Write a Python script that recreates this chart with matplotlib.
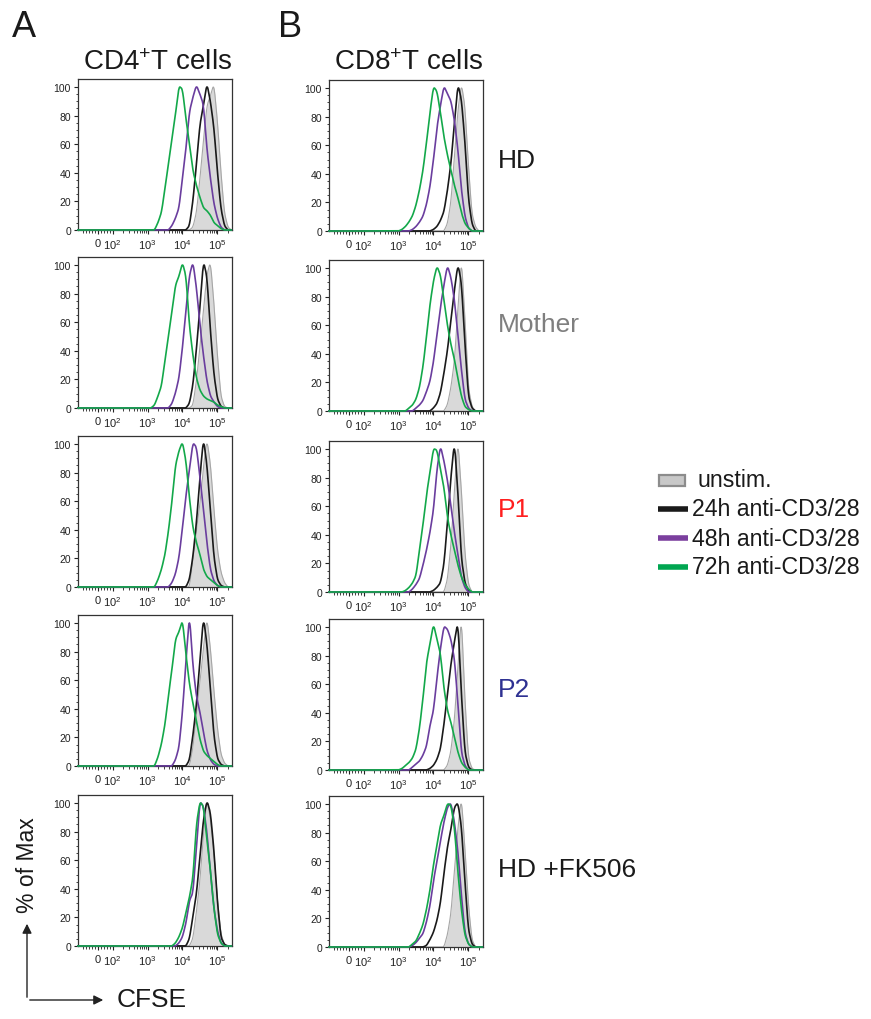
import matplotlib
matplotlib.use('Agg')
import matplotlib.pyplot as plt
from matplotlib.patches import Rectangle, FancyArrowPatch
from matplotlib.lines import Line2D
import numpy as np

plt.rcParams['font.family'] = ['Liberation Sans', 'DejaVu Sans']
plt.rcParams['mathtext.fontset'] = 'custom'
plt.rcParams['mathtext.rm'] = 'Liberation Sans'
plt.rcParams['mathtext.it'] = 'Liberation Sans:italic'

# CFSE intensity grid (log10) and % of max per curve: [unstim, 24h, 48h, 72h]
log_cfse = [3.0, 3.1, 3.2, 3.3, 3.4, 3.5, 3.6, 3.7, 3.8, 3.9, 4.0, 4.1, 4.2,
            4.3, 4.4, 4.5, 4.6, 4.7, 4.8, 4.9, 5.0, 5.1, 5.2, 5.3, 5.4]

cd4_hd = [
    [0, 0, 0, 0, 0, 0, 0, 0, 0, 0, 0, 0, 0, 2, 12, 35, 62, 85, 92, 100, 75, 40, 12, 2, 0],
    [0, 0, 0, 0, 0, 0, 0, 0, 0, 0, 0, 0, 3, 20, 45, 72, 85, 100, 88, 70, 40, 15, 3, 0, 0],
    [0, 0, 0, 0, 0, 0, 0, 3, 8, 15, 35, 55, 80, 90, 98, 92, 85, 55, 35, 18, 8, 2, 0, 0, 0],
    [0, 0, 0, 5, 12, 28, 45, 62, 78, 97, 95, 75, 58, 40, 30, 22, 15, 13, 10, 5, 3, 1, 0, 0, 0],
]
cd4_mother = [
    [0, 0, 0, 0, 0, 0, 0, 0, 0, 0, 0, 0, 0, 2, 18, 40, 65, 88, 97, 70, 35, 8, 1, 0, 0],
    [0, 0, 0, 0, 0, 0, 0, 0, 0, 0, 0, 0, 3, 15, 38, 65, 95, 85, 50, 22, 6, 1, 0, 0, 0],
    [0, 0, 0, 0, 0, 0, 0, 3, 10, 20, 40, 65, 88, 97, 80, 55, 35, 18, 8, 4, 1, 0, 0, 0, 0],
    [0, 0, 2, 8, 15, 32, 48, 65, 82, 88, 97, 88, 55, 35, 20, 12, 8, 6, 5, 4, 2, 1, 0, 0, 0],
]
cd4_p1 = [
    [0, 0, 0, 0, 0, 0, 0, 0, 0, 0, 0, 0, 0, 18, 38, 55, 80, 98, 82, 52, 25, 10, 3, 0, 0],
    [0, 0, 0, 0, 0, 0, 0, 0, 0, 0, 0, 0, 5, 20, 42, 72, 97, 80, 50, 20, 5, 1, 0, 0, 0],
    [0, 0, 0, 0, 0, 0, 0, 3, 9, 20, 40, 62, 80, 98, 95, 75, 52, 30, 12, 4, 1, 0, 0, 0, 0],
    [0, 0, 0, 5, 12, 22, 38, 58, 82, 92, 98, 85, 60, 40, 30, 22, 12, 7, 5, 3, 1, 0, 0, 0, 0],
]
cd4_p2 = [
    [0, 0, 0, 0, 0, 0, 0, 0, 0, 0, 0, 0, 0, 12, 35, 55, 78, 98, 78, 50, 25, 8, 2, 0, 0],
    [0, 0, 0, 0, 0, 0, 0, 0, 0, 0, 0, 0, 4, 20, 40, 70, 97, 80, 50, 20, 5, 1, 0, 0, 0],
    [0, 0, 0, 0, 0, 0, 0, 0, 4, 12, 35, 68, 98, 65, 45, 35, 22, 10, 4, 1, 0, 0, 0, 0, 0],
    [0, 0, 0, 6, 15, 28, 48, 65, 85, 90, 98, 75, 55, 42, 30, 18, 10, 7, 5, 3, 1, 0, 0, 0, 0],
]
cd4_fk = [
    [0, 0, 0, 0, 0, 0, 0, 0, 0, 0, 0, 0, 0, 5, 22, 42, 72, 95, 82, 60, 30, 8, 1, 0, 0],
    [0, 0, 0, 0, 0, 0, 0, 0, 0, 0, 0, 0, 5, 20, 35, 60, 85, 98, 90, 65, 30, 6, 1, 0, 0],
    [0, 0, 0, 0, 0, 0, 0, 0, 0, 2, 6, 15, 30, 35, 65, 95, 92, 75, 48, 25, 10, 2, 0, 0, 0],
    [0, 0, 0, 0, 0, 0, 0, 0, 2, 6, 12, 22, 32, 45, 80, 95, 92, 70, 50, 25, 8, 2, 0, 0, 0],
]
cd8_hd = [
    [0, 0, 0, 0, 0, 0, 0, 0, 0, 0, 0, 0, 0, 0, 5, 20, 50, 82, 100, 85, 45, 12, 3, 0, 0],
    [0, 0, 0, 0, 0, 0, 0, 0, 0, 0, 1, 3, 7, 13, 27, 45, 72, 98, 88, 60, 22, 5, 0, 0, 0],
    [0, 0, 0, 0, 1, 3, 6, 10, 18, 30, 48, 70, 85, 98, 93, 88, 75, 55, 28, 10, 2, 0, 0, 0, 0],
    [0, 1, 3, 6, 10, 17, 27, 40, 58, 78, 95, 92, 78, 62, 50, 40, 30, 22, 12, 5, 2, 0, 0, 0, 0],
]
cd8_mother = [
    [0, 0, 0, 0, 0, 0, 0, 0, 0, 0, 0, 0, 0, 0, 4, 15, 32, 65, 97, 60, 15, 3, 0, 0, 0],
    [0, 0, 0, 0, 0, 0, 0, 0, 0, 0, 2, 5, 12, 25, 40, 60, 80, 97, 85, 45, 10, 2, 0, 0, 0],
    [0, 0, 0, 0, 0, 2, 4, 7, 13, 20, 33, 52, 70, 85, 98, 90, 75, 50, 28, 8, 2, 0, 0, 0, 0],
    [0, 0, 0, 2, 4, 8, 16, 30, 50, 72, 88, 98, 92, 75, 58, 45, 35, 22, 10, 3, 1, 0, 0, 0, 0],
]
cd8_p1 = [
    [0, 0, 0, 0, 0, 0, 0, 0, 0, 0, 0, 0, 0, 0, 8, 30, 65, 97, 65, 25, 5, 0, 0, 0, 0],
    [0, 0, 0, 0, 0, 0, 0, 0, 0, 0, 1, 3, 6, 18, 45, 75, 98, 65, 22, 6, 1, 0, 0, 0, 0],
    [0, 0, 0, 0, 2, 5, 9, 18, 28, 40, 55, 82, 98, 88, 75, 58, 40, 25, 10, 3, 0, 0, 0, 0, 0],
    [0, 0, 1, 3, 6, 11, 28, 45, 65, 80, 96, 95, 82, 70, 50, 38, 28, 18, 10, 5, 2, 0, 0, 0, 0],
]
cd8_p2 = [
    [0, 0, 0, 0, 0, 0, 0, 0, 0, 0, 0, 0, 0, 0, 3, 12, 32, 65, 98, 45, 8, 1, 0, 0, 0],
    [0, 0, 0, 0, 0, 0, 0, 0, 0, 1, 3, 7, 14, 30, 50, 70, 85, 98, 50, 12, 2, 0, 0, 0, 0],
    [0, 0, 0, 0, 2, 4, 6, 10, 16, 30, 40, 62, 82, 97, 95, 88, 75, 45, 12, 3, 0, 0, 0, 0, 0],
    [0, 1, 3, 5, 8, 14, 28, 48, 72, 85, 98, 88, 78, 55, 40, 32, 22, 12, 5, 2, 0, 0, 0, 0, 0],
]
cd8_fk = [
    [0, 0, 0, 0, 0, 0, 0, 0, 0, 0, 0, 0, 0, 0, 8, 22, 50, 78, 98, 65, 28, 5, 0, 0, 0],
    [0, 0, 0, 0, 0, 0, 0, 0, 1, 5, 10, 18, 30, 50, 68, 80, 95, 98, 82, 45, 12, 2, 0, 0, 0],
    [0, 0, 0, 0, 1, 3, 6, 9, 17, 28, 45, 58, 72, 85, 95, 98, 85, 65, 35, 10, 2, 0, 0, 0, 0],
    [0, 0, 0, 0, 2, 4, 9, 15, 25, 38, 55, 68, 82, 88, 96, 95, 80, 50, 25, 8, 2, 0, 0, 0, 0],
]

row_labels = ['HD', 'Mother', 'P1', 'P2', 'HD +FK506']
row_colors = ['#1a1a1a', '#7f7f7f', '#ff1f1f', '#2e3192', '#1a1a1a']
col_titles = ['CD4$^{+}$T cells', 'CD8$^{+}$T cells']
series_names = ['unstim.', '24h anti-CD3/28', '48h anti-CD3/28', '72h anti-CD3/28']
line_colors = ['#1a1a1a', '#6a3d9e', '#13a84a']

panels = [[cd4_hd, cd4_mother, cd4_p1, cd4_p2, cd4_fk],
          [cd8_hd, cd8_mother, cd8_p1, cd8_p2, cd8_fk]]

W, H = 871, 1020
fig = plt.figure(figsize=(W / 100, H / 100), dpi=100)
fig.patch.set_facecolor('white')


def fx(px):
    return px / W


def fy(py):
    return 1 - py / H


lefts = [78, 329]
tops = [[80, 258, 437, 616, 796], [81, 261, 442, 620, 797]]
pw, ph = 154, 151

fine = np.arange(3.0, 5.4001, 0.01)
kern = np.ones(7) / 7.0


def curve(vals):
    y = np.interp(fine, log_cfse, vals)
    y = np.convolve(y, kern, mode='same')
    y = y / y.max() * 100
    x = np.concatenate([[-140, 0, 100], 10 ** fine])
    y = np.concatenate([[0, 0, 0], y])
    return x, y


minor_x = [v for v in range(-100, 100, 20) if v != 0]
for d in [2, 3, 4]:
    minor_x += [k * 10 ** d for k in range(2, 10)]
minor_x += [2e5]

for c in range(2):
    for r in range(5):
        t = tops[c][r]
        ax = fig.add_axes([fx(lefts[c]), fy(t + ph), pw / W, ph / H])
        data = panels[c][r]
        x, y = curve(data[0])
        ax.fill_between(x, y, 0, color='#d9d9d9', lw=0, zorder=1)
        ax.plot(x, y, color='#a6a6a6', lw=0.8, zorder=2)
        for vals, col in zip(data[1:], line_colors):
            x, y = curve(vals)
            ax.plot(x, y, color=col, lw=1.2, zorder=3, clip_on=False)
        ax.set_xscale('symlog', linthresh=100, linscale=0.38)
        ax.set_xlim(-140, 262144)
        ax.set_ylim(0, 105.6)
        ax.set_xticks([0, 1e2, 1e3, 1e4, 1e5])
        ax.set_xticklabels(['0', '10$^{2}$', '10$^{3}$', '10$^{4}$', '10$^{5}$'])
        ax.set_xticks(minor_x, minor=True)
        ax.set_yticks(range(0, 101, 20))
        ax.set_yticks(range(0, 101, 5), minor=True)
        ax.tick_params(which='major', direction='out', length=3, width=0.8,
                       labelsize=7.5, pad=2, colors='#222222')
        ax.tick_params(which='minor', direction='out', length=1.8, width=0.6, colors='#222222')
        ax.tick_params(axis='x', which='major', pad=2.5, labelsize=8)
        for s in ax.spines.values():
            s.set_linewidth(0.9)
            s.set_color('#333333')

# column headers and panel letters
for c in range(2):
    fig.text(fx(lefts[c] + pw / 2 + 3), fy(70), col_titles[c], ha='center', va='baseline',
             fontsize=20, color='#1a1a1a')
fig.text(fx(12), fy(37), 'A', fontsize=26, color='#1a1a1a', va='baseline')
fig.text(fx(278), fy(37), 'B', fontsize=26, color='#1a1a1a', va='baseline')

# row labels
label_y = [161, 325, 510, 690, 870]
for lab, col, yy in zip(row_labels, row_colors, label_y):
    fig.text(fx(498), fy(yy), lab, fontsize=19, color=col, va='center', ha='left')

# legend
fig.add_artist(Rectangle((fx(659), fy(487)), 26 / W, 11 / H, transform=fig.transFigure,
                         facecolor='#c8c8c8', edgecolor='#8c8c8c', lw=1.6))
fig.text(fx(697), fy(481), series_names[0], fontsize=16.7, va='center', color='#1a1a1a')
for i, (name, col) in enumerate(zip(series_names[1:], ['#1a1a1a', '#7b3f9e', '#00a651'])):
    yy = 510 + i * 29
    fig.add_artist(Line2D([fx(658), fx(688)], [fy(yy), fy(yy)], transform=fig.transFigure,
                          color=col, lw=4, solid_capstyle='butt'))
    fig.text(fx(692), fy(yy), name, fontsize=16.7, va='center', color='#1a1a1a')

# axis labels with arrows
fig.text(fx(28), fy(865), '% of Max', rotation=90, fontsize=16.5, ha='center', va='center',
         color='#1a1a1a')
fig.add_artist(FancyArrowPatch((fx(27), fy(1001)), (fx(27), fy(922)), transform=fig.transFigure,
                               arrowstyle='-|>', mutation_scale=14, lw=1, color='#222222'))
fig.add_artist(FancyArrowPatch((fx(27), fy(1001)), (fx(106), fy(1001)), transform=fig.transFigure,
                               arrowstyle='-|>', mutation_scale=14, lw=1, color='#222222'))
fig.text(fx(117), fy(1000), 'CFSE', fontsize=19, va='center', ha='left', color='#1a1a1a')

plt.savefig('out.png', dpi=100, facecolor='white')
plt.close()
print('out.png done')
